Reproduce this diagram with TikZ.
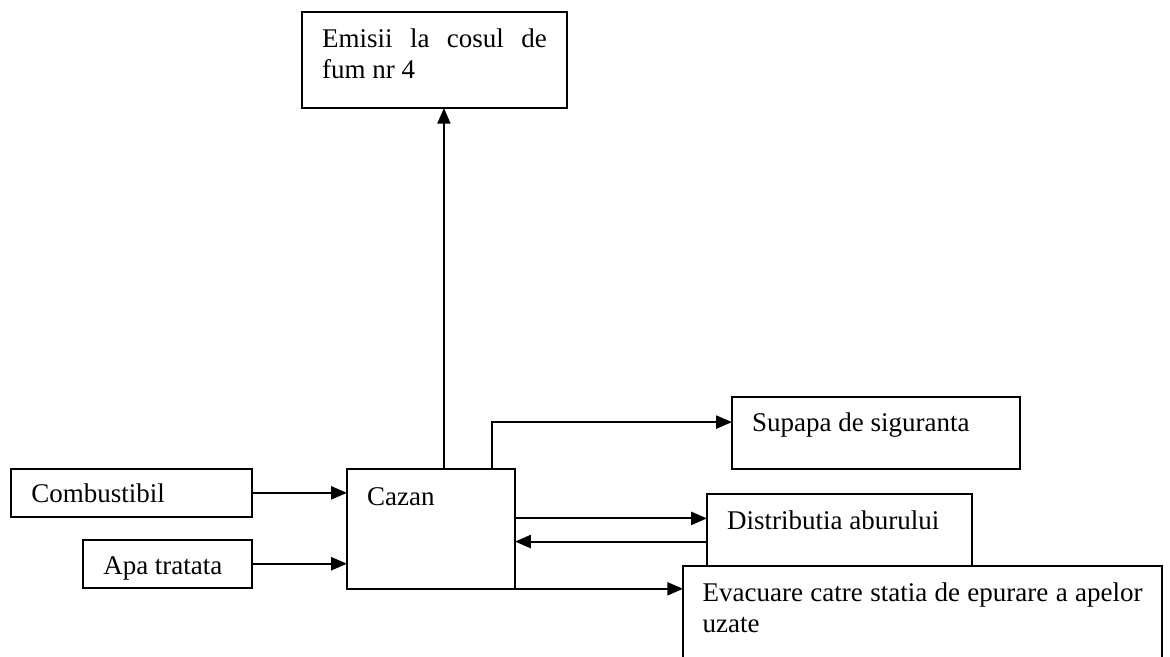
\documentclass[tikz,border=0pt]{standalone}
\usepackage{fontspec}
\setmainfont{Liberation Serif}
\usetikzlibrary{positioning,arrows.meta}
\tolerance=9999
\hyphenpenalty=10000

\begin{document}
\begin{tikzpicture}[
    box/.style={draw, line width=0.85pt, fill=white, anchor=north west, outer sep=0pt,
        inner xsep=9pt, inner ysep=0pt, text height=15.6pt, align=justify,
        font=\fontsize{12pt}{13.8pt}\selectfont},
    flow/.style={-{Triangle[length=7pt,width=5.8pt]}, line width=0.85pt}]
    \useasboundingbox (-154.2pt,208.4pt) rectangle (365.8pt,-83.6pt);
    \node[box, text width=56.7pt, text height=16.4pt, text depth=36.9pt] (cazan) at (0,0) {Cazan};
    \node[box, left=42.2pt of cazan.north west, anchor=north east,
          text width=89.1pt, text height=15.1pt, text depth=6.2pt] (comb) {Combustibil};
    \node[box, below=10.2pt of comb.south east, anchor=north east,
          text width=57.1pt, text depth=5.7pt] (apa) {Apa tratata};
    \node[box, above=160.4pt of cazan.north west, anchor=south west, xshift=-20pt,
          text width=99.8pt, text depth=27.1pt] (emisii) {Emisii la cosul de fum nr 4};
    \node[box, right=96.4pt of cazan.north east, anchor=south west,
          text width=110pt, text depth=16.4pt] (supapa) {Supapa de siguranta};
    \node[box, below right=11.2pt and 85.3pt of cazan.north east,
          text width=99.8pt, text depth=24.4pt] (dist) {Distributia aburului};
    \node[box, below right=43.2pt and 74.7pt of cazan.north east, inner xsep=8.7pt,
          text width=195.5pt, text depth=40pt] (evac) {Evacuare catre statia de epurare a apelor uzate};
    %
    \coordinate[right=43.1pt of cazan.north west] (chimney);
    \coordinate[right=64.3pt of cazan.north west] (valve);
    \coordinate[below=11.2pt of supapa.north west] (valvein);
    \coordinate[below=10.8pt of dist.north west]   (distin);
    \coordinate[below=21.1pt of dist.north west]   (distout);
    %
    \draw[flow] (chimney) -- (chimney |- emisii.south);
    \draw[flow] (valve) |- (valvein);
    \draw[flow] (comb.east) -- (comb.east -| cazan.west);
    \draw[flow] (apa.east) -- (apa.east -| cazan.west);
    \draw[flow] (cazan.east |- distin) -- (distin);
    \draw[flow] (distout) -- (distout -| cazan.east);
    \draw[flow] (cazan.south east) -- (cazan.south east -| evac.west);
\end{tikzpicture}
\end{document}
